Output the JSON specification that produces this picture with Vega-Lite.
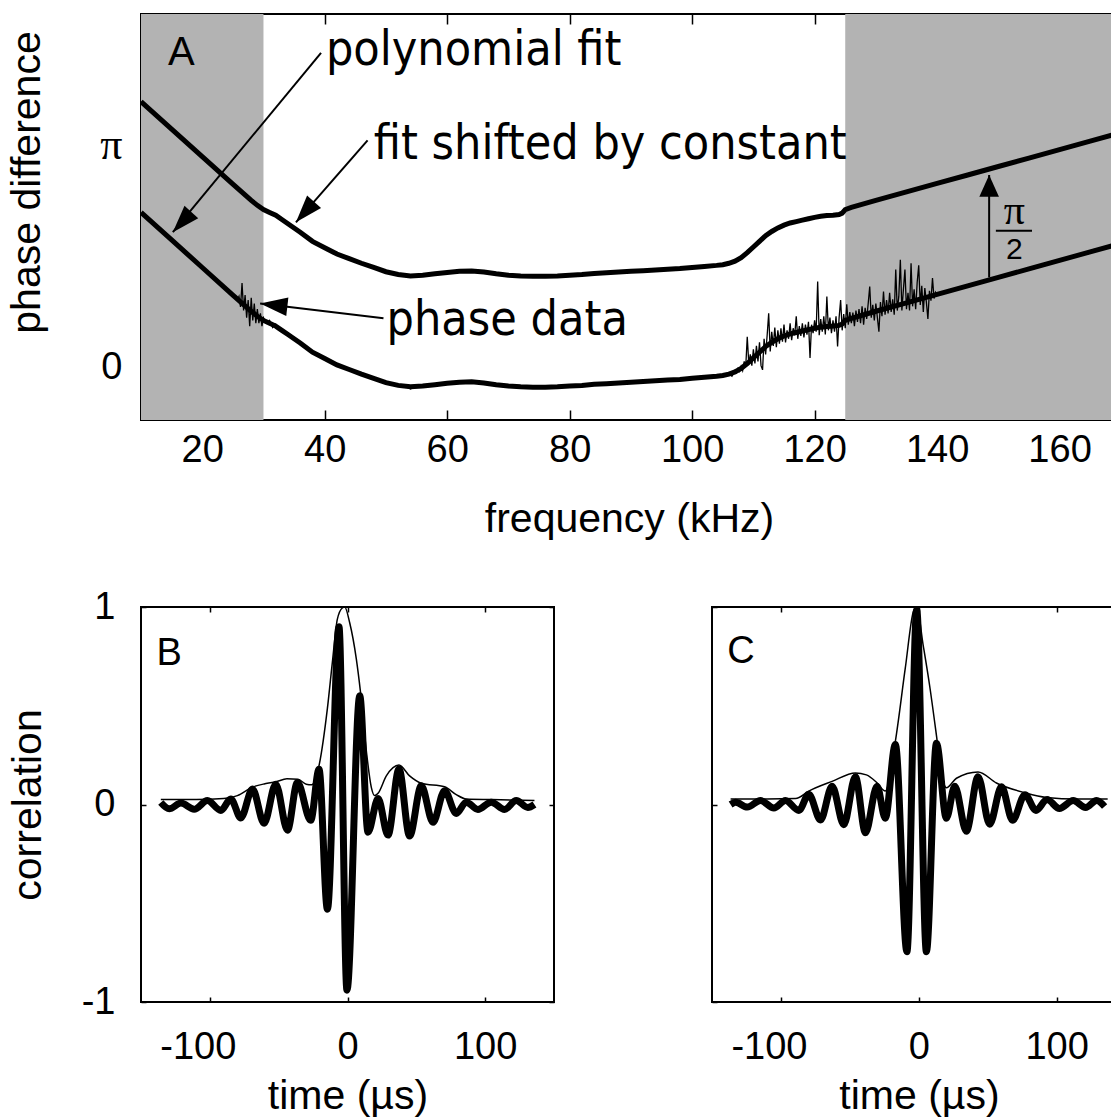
{
  "$schema": "https://vega.github.io/schema/vega-lite/v6.json",
  "background": "white",
  "padding": {"left": 4, "top": 12, "right": 0, "bottom": 0},
  "spacing": 47,
  "config": {
    "view": {"stroke": "#000", "strokeWidth": 2},
    "axis": {"grid": false, "domain": false, "tickColor": "#000", "tickWidth": 1.5, "labelColor": "#000", "titleColor": "#000", "labelFont": "Liberation Sans", "titleFont": "Liberation Sans", "labelFontSize": 38, "titleFontSize": 41, "titleFontWeight": "normal", "labelFlush": false, "labelOverlap": false},
    "point": {"filled": true}
  },
  "datasets": {
    "shadeA": [{"a": 10, "b": 30}, {"a": 125, "b": 170}],
    "fitA": [
      {"f": 10, "lo": 2.19, "hi": 3.76}, {"f": 15, "lo": 1.8, "hi": 3.37}, {"f": 20, "lo": 1.41, "hi": 2.98}, {"f": 25, "lo": 1.02, "hi": 2.59},
      {"f": 28, "lo": 0.79, "hi": 2.36}, {"f": 29, "lo": 0.72, "hi": 2.29}, {"f": 30, "lo": 0.66, "hi": 2.23}, {"f": 31, "lo": 0.62, "hi": 2.19},
      {"f": 32, "lo": 0.58, "hi": 2.15}, {"f": 33, "lo": 0.52, "hi": 2.09}, {"f": 34, "lo": 0.46, "hi": 2.03}, {"f": 35, "lo": 0.4, "hi": 1.97},
      {"f": 36, "lo": 0.34, "hi": 1.91}, {"f": 38, "lo": 0.21, "hi": 1.78}, {"f": 40, "lo": 0.12, "hi": 1.69}, {"f": 42, "lo": 0.03, "hi": 1.6},
      {"f": 44, "lo": -0.035, "hi": 1.535}, {"f": 46, "lo": -0.1, "hi": 1.47}, {"f": 48, "lo": -0.16, "hi": 1.41}, {"f": 50, "lo": -0.22, "hi": 1.35},
      {"f": 52, "lo": -0.26, "hi": 1.31}, {"f": 54, "lo": -0.28, "hi": 1.29}, {"f": 56, "lo": -0.27, "hi": 1.3}, {"f": 58, "lo": -0.25, "hi": 1.32},
      {"f": 60, "lo": -0.23, "hi": 1.34}, {"f": 62, "lo": -0.215, "hi": 1.355}, {"f": 64, "lo": -0.21, "hi": 1.36}, {"f": 66, "lo": -0.225, "hi": 1.345},
      {"f": 68, "lo": -0.25, "hi": 1.32}, {"f": 70, "lo": -0.27, "hi": 1.3}, {"f": 72, "lo": -0.28, "hi": 1.29}, {"f": 74, "lo": -0.285, "hi": 1.285},
      {"f": 76, "lo": -0.285, "hi": 1.285}, {"f": 78, "lo": -0.28, "hi": 1.29}, {"f": 80, "lo": -0.27, "hi": 1.3}, {"f": 82, "lo": -0.26, "hi": 1.31},
      {"f": 84, "lo": -0.245, "hi": 1.325}, {"f": 86, "lo": -0.235, "hi": 1.335}, {"f": 88, "lo": -0.225, "hi": 1.345}, {"f": 90, "lo": -0.215, "hi": 1.355},
      {"f": 92, "lo": -0.205, "hi": 1.365}, {"f": 94, "lo": -0.195, "hi": 1.375}, {"f": 96, "lo": -0.185, "hi": 1.385}, {"f": 98, "lo": -0.175, "hi": 1.395},
      {"f": 100, "lo": -0.16, "hi": 1.41}, {"f": 102, "lo": -0.145, "hi": 1.425}, {"f": 104, "lo": -0.13, "hi": 1.44}, {"f": 105, "lo": -0.12, "hi": 1.45},
      {"f": 106, "lo": -0.1, "hi": 1.47}, {"f": 107, "lo": -0.07, "hi": 1.5}, {"f": 108, "lo": -0.02, "hi": 1.55}, {"f": 109, "lo": 0.05, "hi": 1.62},
      {"f": 110, "lo": 0.13, "hi": 1.7}, {"f": 111, "lo": 0.21, "hi": 1.78}, {"f": 112, "lo": 0.29, "hi": 1.86}, {"f": 113, "lo": 0.35, "hi": 1.92},
      {"f": 114, "lo": 0.4, "hi": 1.97}, {"f": 115, "lo": 0.44, "hi": 2.01}, {"f": 116, "lo": 0.47, "hi": 2.04}, {"f": 117, "lo": 0.49, "hi": 2.06},
      {"f": 118, "lo": 0.51, "hi": 2.08}, {"f": 119, "lo": 0.53, "hi": 2.1}, {"f": 120, "lo": 0.55, "hi": 2.12}, {"f": 121, "lo": 0.565, "hi": 2.135},
      {"f": 122, "lo": 0.575, "hi": 2.145}, {"f": 123, "lo": 0.58, "hi": 2.15}, {"f": 124, "lo": 0.59, "hi": 2.16}, {"f": 124.5, "lo": 0.61, "hi": 2.18},
      {"f": 125, "lo": 0.66, "hi": 2.23}, {"f": 126, "lo": 0.69, "hi": 2.26}, {"f": 130, "lo": 0.79, "hi": 2.36}, {"f": 135, "lo": 0.91, "hi": 2.48},
      {"f": 140, "lo": 1.03, "hi": 2.6}, {"f": 145, "lo": 1.15, "hi": 2.72}, {"f": 150, "lo": 1.27, "hi": 2.84}, {"f": 155, "lo": 1.39, "hi": 2.96},
      {"f": 160, "lo": 1.51, "hi": 3.08}, {"f": 165, "lo": 1.63, "hi": 3.2}, {"f": 170, "lo": 1.75, "hi": 3.32}
    ],
    "phaseA": [
      {"f": 25.75, "p": 0.95}, {"f": 26, "p": 1.0}, {"f": 26.25, "p": 0.85}, {"f": 26.5, "p": 1.19}, {"f": 26.75, "p": 0.8}, {"f": 27, "p": 1.02},
      {"f": 27.25, "p": 0.7}, {"f": 27.5, "p": 0.95}, {"f": 27.75, "p": 0.58}, {"f": 28, "p": 0.98}, {"f": 28.25, "p": 0.66}, {"f": 28.5, "p": 0.9},
      {"f": 28.75, "p": 0.62}, {"f": 29, "p": 0.82}, {"f": 29.25, "p": 0.62}, {"f": 29.5, "p": 0.76}, {"f": 29.75, "p": 0.58}, {"f": 30, "p": 0.7},
      {"f": 30.5, "p": 0.62}, {"f": 31, "p": 0.66}, {"f": 31.5, "p": 0.56}, {"f": 32, "p": 0.61}, {"f": 32.5, "p": 0.54}, {"f": 33, "p": 0.54},
      {"f": 33.5, "p": 0.48}, {"f": 34, "p": 0.45}, {"f": 34.5, "p": 0.45}, {"f": 35, "p": 0.42}, {"f": 36, "p": 0.33}, {"f": 37, "p": 0.3},
      {"f": 38, "p": 0.2}, {"f": 39, "p": 0.19}, {"f": 40, "p": 0.11}, {"f": 41, "p": 0.09}, {"f": 42, "p": 0.03}, {"f": 43, "p": 0.01},
      {"f": 44, "p": -0.04}, {"f": 45, "p": -0.06}, {"f": 46, "p": -0.11}, {"f": 47, "p": -0.12}, {"f": 48, "p": -0.17}, {"f": 49, "p": -0.18},
      {"f": 50, "p": -0.23}, {"f": 51, "p": -0.23}, {"f": 52, "p": -0.27}, {"f": 53, "p": -0.25}, {"f": 54, "p": -0.31}, {"f": 55, "p": -0.27},
      {"f": 56, "p": -0.28}, {"f": 57, "p": -0.25}, {"f": 58, "p": -0.26}, {"f": 60, "p": -0.22}, {"f": 62, "p": -0.22}, {"f": 64, "p": -0.2},
      {"f": 66, "p": -0.23}, {"f": 68, "p": -0.24}, {"f": 70, "p": -0.28}, {"f": 72, "p": -0.27}, {"f": 74, "p": -0.3}, {"f": 76, "p": -0.28},
      {"f": 78, "p": -0.29}, {"f": 80, "p": -0.26}, {"f": 82, "p": -0.27}, {"f": 84, "p": -0.24}, {"f": 86, "p": -0.245}, {"f": 88, "p": -0.22},
      {"f": 90, "p": -0.225}, {"f": 92, "p": -0.2}, {"f": 94, "p": -0.205}, {"f": 96, "p": -0.18}, {"f": 98, "p": -0.19}, {"f": 100, "p": -0.15},
      {"f": 101, "p": -0.17}, {"f": 102, "p": -0.13}, {"f": 103, "p": -0.16}, {"f": 104, "p": -0.12}, {"f": 105, "p": -0.14}, {"f": 106, "p": -0.09},
      {"f": 106.5, "p": -0.13}, {"f": 107, "p": -0.05}, {"f": 107.25, "p": -0.08}, {"f": 107.5, "p": -0.02}, {"f": 107.75, "p": -0.06}, {"f": 108, "p": 0.01},
      {"f": 108.25, "p": -0.05}, {"f": 108.5, "p": 0.08}, {"f": 108.75, "p": 0.0}, {"f": 109, "p": 0.43}, {"f": 109.25, "p": 0.05}, {"f": 109.5, "p": 0.18},
      {"f": 109.75, "p": 0.02}, {"f": 110, "p": 0.25}, {"f": 110.25, "p": 0.05}, {"f": 110.5, "p": 0.3}, {"f": 110.75, "p": 0.08}, {"f": 111, "p": 0.35},
      {"f": 111.25, "p": 0.02}, {"f": 111.5, "p": -0.04}, {"f": 111.75, "p": 0.4}, {"f": 112, "p": 0.18}, {"f": 112.25, "p": 0.45}, {"f": 112.5, "p": 0.76},
      {"f": 112.75, "p": 0.22}, {"f": 113, "p": 0.5}, {"f": 113.25, "p": 0.3}, {"f": 113.5, "p": 0.56}, {"f": 113.75, "p": 0.28}, {"f": 114, "p": 0.52},
      {"f": 114.25, "p": 0.33}, {"f": 114.5, "p": 0.55}, {"f": 114.75, "p": 0.36}, {"f": 115, "p": 0.6}, {"f": 115.25, "p": 0.35}, {"f": 115.5, "p": 0.52},
      {"f": 115.75, "p": 0.4}, {"f": 116, "p": 0.62}, {"f": 116.25, "p": 0.38}, {"f": 116.5, "p": 0.55}, {"f": 116.75, "p": 0.45}, {"f": 117, "p": 0.72},
      {"f": 117.25, "p": 0.4}, {"f": 117.5, "p": 0.58}, {"f": 117.75, "p": 0.44}, {"f": 118, "p": 0.62}, {"f": 118.25, "p": 0.42}, {"f": 118.5, "p": 0.6},
      {"f": 118.75, "p": 0.46}, {"f": 119, "p": 0.64}, {"f": 119.25, "p": 0.13}, {"f": 119.5, "p": 0.6}, {"f": 119.75, "p": 0.48}, {"f": 120, "p": 0.66},
      {"f": 120.25, "p": 0.5}, {"f": 120.5, "p": 1.21}, {"f": 120.75, "p": 0.45}, {"f": 121, "p": 0.68}, {"f": 121.25, "p": 0.5}, {"f": 121.5, "p": 0.72},
      {"f": 121.75, "p": 0.46}, {"f": 122, "p": 1.0}, {"f": 122.25, "p": 0.52}, {"f": 122.5, "p": 0.7}, {"f": 122.75, "p": 0.48}, {"f": 123, "p": 0.66},
      {"f": 123.25, "p": 0.5}, {"f": 123.5, "p": 0.72}, {"f": 123.75, "p": 0.29}, {"f": 124, "p": 0.7}, {"f": 124.25, "p": 0.95}, {"f": 124.5, "p": 0.52},
      {"f": 124.75, "p": 0.75}, {"f": 125, "p": 0.55}, {"f": 125.25, "p": 0.89}, {"f": 125.5, "p": 0.6}, {"f": 125.75, "p": 0.78}, {"f": 126, "p": 0.62},
      {"f": 126.25, "p": 0.77}, {"f": 126.5, "p": 0.58}, {"f": 126.75, "p": 0.8}, {"f": 127, "p": 0.64}, {"f": 127.25, "p": 0.82}, {"f": 127.5, "p": 0.62},
      {"f": 127.75, "p": 0.86}, {"f": 128, "p": 0.6}, {"f": 128.25, "p": 0.84}, {"f": 128.5, "p": 0.68}, {"f": 128.75, "p": 0.9}, {"f": 129, "p": 1.14},
      {"f": 129.25, "p": 0.7}, {"f": 129.5, "p": 0.88}, {"f": 129.75, "p": 0.66}, {"f": 130, "p": 0.9}, {"f": 130.25, "p": 0.7}, {"f": 130.5, "p": 0.5},
      {"f": 130.75, "p": 0.92}, {"f": 131, "p": 0.72}, {"f": 131.25, "p": 1.07}, {"f": 131.5, "p": 0.74}, {"f": 131.75, "p": 0.95}, {"f": 132, "p": 0.76},
      {"f": 132.25, "p": 1.05}, {"f": 132.5, "p": 0.78}, {"f": 132.75, "p": 0.96}, {"f": 133, "p": 0.74}, {"f": 133.25, "p": 1.38}, {"f": 133.5, "p": 0.8},
      {"f": 133.75, "p": 1.0}, {"f": 134, "p": 1.52}, {"f": 134.25, "p": 0.8}, {"f": 134.5, "p": 1.1}, {"f": 134.75, "p": 1.38}, {"f": 135, "p": 0.82},
      {"f": 135.25, "p": 1.05}, {"f": 135.5, "p": 0.8}, {"f": 135.75, "p": 1.47}, {"f": 136, "p": 0.86}, {"f": 136.25, "p": 1.1}, {"f": 136.5, "p": 0.82},
      {"f": 136.75, "p": 1.2}, {"f": 137, "p": 1.44}, {"f": 137.25, "p": 0.88}, {"f": 137.5, "p": 1.15}, {"f": 137.75, "p": 0.78}, {"f": 138, "p": 1.12},
      {"f": 138.25, "p": 0.92}, {"f": 138.5, "p": 0.68}, {"f": 138.75, "p": 1.08}, {"f": 139, "p": 0.94}, {"f": 139.25, "p": 1.26}, {"f": 139.5, "p": 0.97},
      {"f": 139.75, "p": 1.06}, {"f": 140, "p": 1.02}
    ],
    "arrowsA": [
      {"id": 1, "f0": 39.4, "v0": 4.45, "f1": 15.2, "v1": 1.91},
      {"id": 2, "f0": 47.0, "v0": 3.21, "f1": 35.3, "v1": 2.05},
      {"id": 3, "f0": 49.6, "v0": 0.69, "f1": 29.45, "v1": 0.9},
      {"id": 4, "f0": 148.5, "v0": 1.27, "f1": 148.5, "v1": 2.72}
    ],
    "notesA": [
      {"f": 40.2, "v": 4.28, "txt": "polynomial fit"},
      {"f": 48.0, "v": 2.95, "txt": "fit shifted by constant"},
      {"f": 50.1, "v": 0.45, "txt": "phase data"}
    ],
    "piA": [{"f": 152.6, "v": 2.02, "txt": "π"}],
    "twoA": [{"f": 152.6, "v": 1.66, "txt": "2"}],
    "barA": [{"f0": 149.6, "f1": 155.5, "v": 1.93}],
    "letterA": [{"f": 16.6, "v": 4.45, "txt": "A"}],
    "thickB": [
      {"t": -135.6, "r": 0.01}, {"t": -129.5, "r": -0.022}, {"t": -121, "r": 0.007}, {"t": -111.4, "r": -0.024}, {"t": -101.7, "r": 0.02},
      {"t": -92, "r": -0.03}, {"t": -84.8, "r": 0.028}, {"t": -77.5, "r": -0.068}, {"t": -69, "r": 0.078}, {"t": -60.6, "r": -0.095},
      {"t": -52.1, "r": 0.103}, {"t": -43.6, "r": -0.13}, {"t": -36.4, "r": 0.112}, {"t": -26.7, "r": -0.08}, {"t": -20.7, "r": 0.178},
      {"t": -14.6, "r": -0.53}, {"t": -6.2, "r": 0.9}, {"t": -0.4, "r": -0.94}, {"t": 8.9, "r": 0.55}, {"t": 14.9, "r": -0.14},
      {"t": 22.2, "r": 0.03}, {"t": 29.4, "r": -0.155}, {"t": 37.4, "r": 0.18}, {"t": 45.1, "r": -0.16}, {"t": 53.6, "r": 0.095},
      {"t": 62.1, "r": -0.09}, {"t": 70.5, "r": 0.07}, {"t": 79, "r": -0.045}, {"t": 86.3, "r": 0.012}, {"t": 94.7, "r": -0.025},
      {"t": 104.4, "r": 0.012}, {"t": 114.1, "r": -0.025}, {"t": 122.6, "r": 0.02}, {"t": 131, "r": -0.015}, {"t": 135.8, "r": 0.0}
    ],
    "envB": [
      {"t": -135.6, "e": 0.025}, {"t": -110, "e": 0.025}, {"t": -90, "e": 0.03}, {"t": -80, "e": 0.045}, {"t": -69, "e": 0.088},
      {"t": -60, "e": 0.105}, {"t": -52, "e": 0.115}, {"t": -44, "e": 0.13}, {"t": -36, "e": 0.128}, {"t": -30, "e": 0.103},
      {"t": -26, "e": 0.1}, {"t": -21, "e": 0.187}, {"t": -14.6, "e": 0.487}, {"t": -11, "e": 0.72}, {"t": -7.4, "e": 0.937},
      {"t": -3.8, "e": 0.995}, {"t": -2, "e": 1.0}, {"t": 1.6, "e": 0.92}, {"t": 6.4, "e": 0.737}, {"t": 9.3, "e": 0.578},
      {"t": 13.7, "e": 0.27}, {"t": 17.3, "e": 0.087}, {"t": 19.7, "e": 0.045}, {"t": 22.2, "e": 0.057}, {"t": 28.2, "e": 0.145},
      {"t": 37.4, "e": 0.2}, {"t": 45.1, "e": 0.145}, {"t": 53.6, "e": 0.108}, {"t": 70.5, "e": 0.09}, {"t": 79, "e": 0.05},
      {"t": 86.3, "e": 0.028}, {"t": 104.4, "e": 0.025}, {"t": 135.8, "e": 0.02}
    ],
    "thickC": [
      {"t": -136.5, "r": 0.0}, {"t": -132.9, "r": 0.011}, {"t": -124.4, "r": -0.013}, {"t": -114.8, "r": 0.02}, {"t": -105.1, "r": -0.018},
      {"t": -96.7, "r": 0.02}, {"t": -87, "r": -0.03}, {"t": -79.8, "r": 0.052}, {"t": -71.3, "r": -0.078}, {"t": -62.9, "r": 0.093},
      {"t": -54.4, "r": -0.102}, {"t": -46, "r": 0.141}, {"t": -38.7, "r": -0.143}, {"t": -30.3, "r": 0.093}, {"t": -24.3, "r": -0.07},
      {"t": -17, "r": 0.304}, {"t": -8.6, "r": -0.745}, {"t": -1.5, "r": 0.985}, {"t": 5.5, "r": -0.745}, {"t": 12.8, "r": 0.31},
      {"t": 20, "r": -0.07}, {"t": 26.1, "r": 0.093}, {"t": 34.5, "r": -0.135}, {"t": 43, "r": 0.141}, {"t": 51.4, "r": -0.1},
      {"t": 60, "r": 0.09}, {"t": 68, "r": -0.08}, {"t": 77, "r": 0.05}, {"t": 85, "r": -0.03}, {"t": 93, "r": 0.025},
      {"t": 102, "r": -0.02}, {"t": 112, "r": 0.02}, {"t": 121, "r": -0.015}, {"t": 129, "r": 0.02}, {"t": 134.8, "r": -0.01}
    ],
    "envC": [
      {"t": -136.5, "e": 0.028}, {"t": -110, "e": 0.028}, {"t": -89.4, "e": 0.03}, {"t": -79.8, "e": 0.068}, {"t": -62.9, "e": 0.117},
      {"t": -46, "e": 0.16}, {"t": -38, "e": 0.15}, {"t": -30.3, "e": 0.11}, {"t": -24.3, "e": 0.068}, {"t": -17, "e": 0.32},
      {"t": -9.8, "e": 0.69}, {"t": -3.8, "e": 0.98}, {"t": -1.5, "e": 1.0}, {"t": 3.1, "e": 0.81}, {"t": 7.9, "e": 0.6},
      {"t": 12.8, "e": 0.35}, {"t": 16.4, "e": 0.157}, {"t": 20, "e": 0.085}, {"t": 27.3, "e": 0.133}, {"t": 43, "e": 0.165},
      {"t": 56.3, "e": 0.109}, {"t": 76.8, "e": 0.06}, {"t": 92.5, "e": 0.036}, {"t": 115, "e": 0.028}, {"t": 137, "e": 0.028}
    ],
    "letterB": [{"t": -129.5, "v": 0.76, "txt": "B"}],
    "letterC": [{"t": -129, "v": 0.77, "txt": "C"}]
  },
  "vconcat": [
    {
      "width": 970,
      "height": 406,
      "resolve": {"axis": {"x": "independent", "y": "independent"}},
      "layer": [
        {
          "data": {"name": "shadeA"},
          "mark": {"type": "rect", "color": "#b3b3b3", "clip": true},
          "encoding": {
            "x": {"field": "a", "type": "quantitative", "scale": {"domain": [10, 168.4], "nice": false, "zero": false}, "axis": null},
            "x2": {"field": "b"}
          }
        },
        {
          "data": {"name": "fitA"},
          "mark": {"type": "line", "color": "#000", "strokeWidth": 5, "clip": true},
          "encoding": {
            "x": {"field": "f", "type": "quantitative", "scale": {"domain": [10, 168.4], "nice": false, "zero": false},
              "axis": {"orient": "bottom", "values": [20, 40, 60, 80, 100, 120, 140, 160], "tickSize": -10, "labelPadding": 21, "title": "frequency (kHz)", "titleY": 79, "titleBaseline": "top", "titleX": 488}},
            "y": {"field": "lo", "type": "quantitative", "scale": {"domain": [-0.75, 5], "nice": false, "zero": false},
              "axis": {"orient": "left", "values": [0, 3.14159265], "tickSize": -10, "labelPadding": 29,
                "labelExpr": "datum.value > 1 ? 'π' : '0'",
                "labelFont": {"condition": {"test": "datum.value > 1", "value": "Liberation Serif"}, "value": "Liberation Sans"},
                "labelFontSize": {"condition": {"test": "datum.value > 1", "value": 44}, "value": 38},
                "title": "phase difference", "titleX": -102, "titleY": 168, "titleAngle": -90, "titleBaseline": "alphabetic", "titleAlign": "center"}}
          }
        },
        {
          "data": {"name": "fitA"},
          "mark": {"type": "line", "color": "#000", "strokeWidth": 5, "clip": true},
          "encoding": {
            "x": {"field": "f", "type": "quantitative", "scale": {"domain": [10, 168.4], "nice": false, "zero": false},
              "axis": {"orient": "top", "values": [20, 40, 60, 80, 100, 120, 140, 160], "tickSize": -10, "labels": false, "title": null}},
            "y": {"field": "hi", "type": "quantitative", "scale": {"domain": [-0.75, 5], "nice": false, "zero": false}, "axis": null}
          }
        },
        {
          "data": {"name": "phaseA"},
          "mark": {"type": "line", "color": "#000", "strokeWidth": 1.3, "clip": true},
          "encoding": {
            "x": {"field": "f", "type": "quantitative", "scale": {"domain": [10, 168.4], "nice": false, "zero": false}, "axis": null},
            "y": {"field": "p", "type": "quantitative", "scale": {"domain": [-0.75, 5], "nice": false, "zero": false}, "axis": null}
          }
        },
        {
          "data": {"name": "arrowsA"},
          "mark": {"type": "rule", "color": "#000", "strokeWidth": 2},
          "encoding": {
            "x": {"field": "f0", "type": "quantitative", "scale": {"domain": [10, 168.4], "nice": false, "zero": false}, "axis": null},
            "y": {"field": "v0", "type": "quantitative", "scale": {"domain": [-0.75, 5], "nice": false, "zero": false}, "axis": null},
            "x2": {"field": "f1"},
            "y2": {"field": "v1"}
          }
        },
        {
          "data": {"name": "arrowsA"},
          "transform": [{"filter": "datum.id == 1"}],
          "mark": {"type": "point", "shape": "M0,0L-0.34,1L0.34,1Z", "size": 3000, "angle": 222.5, "color": "#000", "filled": true, "opacity": 1},
          "encoding": {
            "x": {"field": "f1", "type": "quantitative", "scale": {"domain": [10, 168.4], "nice": false, "zero": false}, "axis": null},
            "y": {"field": "v1", "type": "quantitative", "scale": {"domain": [-0.75, 5], "nice": false, "zero": false}, "axis": null}
          }
        },
        {
          "data": {"name": "arrowsA"},
          "transform": [{"filter": "datum.id == 2"}],
          "mark": {"type": "point", "shape": "M0,0L-0.34,1L0.34,1Z", "size": 3000, "angle": 221.5, "color": "#000", "filled": true, "opacity": 1},
          "encoding": {
            "x": {"field": "f1", "type": "quantitative", "scale": {"domain": [10, 168.4], "nice": false, "zero": false}, "axis": null},
            "y": {"field": "v1", "type": "quantitative", "scale": {"domain": [-0.75, 5], "nice": false, "zero": false}, "axis": null}
          }
        },
        {
          "data": {"name": "arrowsA"},
          "transform": [{"filter": "datum.id == 3"}],
          "mark": {"type": "point", "shape": "M0,0L-0.34,1L0.34,1Z", "size": 3000, "angle": 276.6, "color": "#000", "filled": true, "opacity": 1},
          "encoding": {
            "x": {"field": "f1", "type": "quantitative", "scale": {"domain": [10, 168.4], "nice": false, "zero": false}, "axis": null},
            "y": {"field": "v1", "type": "quantitative", "scale": {"domain": [-0.75, 5], "nice": false, "zero": false}, "axis": null}
          }
        },
        {
          "data": {"name": "arrowsA"},
          "transform": [{"filter": "datum.id == 4"}],
          "mark": {"type": "point", "shape": "M0,0L-0.45,1L0.45,1Z", "size": 1900, "angle": 0, "color": "#000", "filled": true, "opacity": 1},
          "encoding": {
            "x": {"field": "f1", "type": "quantitative", "scale": {"domain": [10, 168.4], "nice": false, "zero": false}, "axis": null},
            "y": {"field": "v1", "type": "quantitative", "scale": {"domain": [-0.75, 5], "nice": false, "zero": false}, "axis": null}
          }
        },
        {
          "data": {"name": "notesA"},
          "mark": {"type": "text", "font": "DejaVu Sans Condensed, DejaVu Sans", "fontSize": 48, "align": "left", "baseline": "alphabetic", "color": "#000"},
          "encoding": {
            "x": {"field": "f", "type": "quantitative", "scale": {"domain": [10, 168.4], "nice": false, "zero": false}, "axis": null},
            "y": {"field": "v", "type": "quantitative", "scale": {"domain": [-0.75, 5], "nice": false, "zero": false}, "axis": null},
            "text": {"field": "txt"}
          }
        },
        {
          "data": {"name": "letterA"},
          "mark": {"type": "text", "font": "Liberation Sans", "fontSize": 40, "align": "center", "baseline": "middle", "color": "#000"},
          "encoding": {
            "x": {"field": "f", "type": "quantitative", "scale": {"domain": [10, 168.4], "nice": false, "zero": false}, "axis": null},
            "y": {"field": "v", "type": "quantitative", "scale": {"domain": [-0.75, 5], "nice": false, "zero": false}, "axis": null},
            "text": {"field": "txt"}
          }
        },
        {
          "data": {"name": "piA"},
          "mark": {"type": "text", "font": "Liberation Serif", "fontSize": 42, "align": "center", "baseline": "alphabetic", "color": "#000"},
          "encoding": {
            "x": {"field": "f", "type": "quantitative", "scale": {"domain": [10, 168.4], "nice": false, "zero": false}, "axis": null},
            "y": {"field": "v", "type": "quantitative", "scale": {"domain": [-0.75, 5], "nice": false, "zero": false}, "axis": null},
            "text": {"field": "txt"}
          }
        },
        {
          "data": {"name": "twoA"},
          "mark": {"type": "text", "font": "Liberation Sans", "fontSize": 30, "align": "center", "baseline": "middle", "color": "#000"},
          "encoding": {
            "x": {"field": "f", "type": "quantitative", "scale": {"domain": [10, 168.4], "nice": false, "zero": false}, "axis": null},
            "y": {"field": "v", "type": "quantitative", "scale": {"domain": [-0.75, 5], "nice": false, "zero": false}, "axis": null},
            "text": {"field": "txt"}
          }
        },
        {
          "data": {"name": "barA"},
          "mark": {"type": "rule", "color": "#000", "strokeWidth": 2},
          "encoding": {
            "x": {"field": "f0", "type": "quantitative", "scale": {"domain": [10, 168.4], "nice": false, "zero": false}, "axis": null},
            "x2": {"field": "f1"},
            "y": {"field": "v", "type": "quantitative", "scale": {"domain": [-0.75, 5], "nice": false, "zero": false}, "axis": null}
          }
        }
      ]
    },
    {
      "spacing": 154,
      "hconcat": [
        {
          "width": 413,
          "height": 395,
          "resolve": {"axis": {"x": "independent", "y": "independent"}},
          "layer": [
            {
              "data": {"name": "thickB"},
              "mark": {"type": "line", "color": "#000", "strokeWidth": 7, "interpolate": "monotone"},
              "encoding": {
                "x": {"field": "t", "type": "quantitative", "scale": {"domain": [-150, 150], "nice": false, "zero": false},
                  "axis": {"orient": "bottom", "values": [-100, 0, 100], "tickSize": -5, "labelPadding": 31, "labelExpr": "'' + datum.value",
                    "labelOffset": {"condition": {"test": "datum.value < 0", "value": -12}, "value": 0},
                    "title": "time (µs)", "titleY": 74, "titleBaseline": "top"}},
                "y": {"field": "r", "type": "quantitative", "scale": {"domain": [-1, 1], "nice": false, "zero": false},
                  "axis": {"orient": "left", "values": [-1, 0, 1], "tickSize": -5, "labelPadding": 31, "labelExpr": "'' + datum.value", "title": "correlation", "titleX": -101, "titleAngle": -90, "titleBaseline": "alphabetic", "titleAlign": "center"}}
              }
            },
            {
              "data": {"name": "envB"},
              "mark": {"type": "line", "color": "#000", "strokeWidth": 1.5, "interpolate": "monotone"},
              "encoding": {
                "x": {"field": "t", "type": "quantitative", "scale": {"domain": [-150, 150], "nice": false, "zero": false},
                  "axis": {"orient": "top", "values": [-100, 0, 100], "tickSize": -5, "labels": false, "title": null}},
                "y": {"field": "e", "type": "quantitative", "scale": {"domain": [-1, 1], "nice": false, "zero": false},
                  "axis": {"orient": "right", "values": [-1, 0, 1], "tickSize": -5, "labels": false, "title": null}}
              }
            },
            {
              "data": {"name": "letterB"},
              "mark": {"type": "text", "font": "Liberation Sans", "fontSize": 38, "align": "center", "baseline": "middle", "color": "#000"},
              "encoding": {
                "x": {"field": "t", "type": "quantitative", "scale": {"domain": [-150, 150], "nice": false, "zero": false}, "axis": null},
                "y": {"field": "v", "type": "quantitative", "scale": {"domain": [-1, 1], "nice": false, "zero": false}, "axis": null},
                "text": {"field": "txt"}
              }
            }
          ]
        },
        {
          "width": 402,
          "height": 395,
          "resolve": {"axis": {"x": "independent", "y": "independent"}},
          "layer": [
            {
              "data": {"name": "thickC"},
              "mark": {"type": "line", "color": "#000", "strokeWidth": 7, "interpolate": "monotone"},
              "encoding": {
                "x": {"field": "t", "type": "quantitative", "scale": {"domain": [-150, 141.6], "nice": false, "zero": false},
                  "axis": {"orient": "bottom", "values": [-100, 0, 100], "tickSize": -5, "labelPadding": 31, "labelExpr": "'' + datum.value",
                    "labelOffset": {"condition": {"test": "datum.value < 0", "value": -12}, "value": 0},
                    "title": "time (µs)", "titleY": 74, "titleBaseline": "top", "titleX": 207}},
                "y": {"field": "r", "type": "quantitative", "scale": {"domain": [-1, 1], "nice": false, "zero": false},
                  "axis": {"orient": "left", "values": [-1, 0, 1], "tickSize": -5, "labels": false, "title": null}}
              }
            },
            {
              "data": {"name": "envC"},
              "mark": {"type": "line", "color": "#000", "strokeWidth": 1.5, "interpolate": "monotone"},
              "encoding": {
                "x": {"field": "t", "type": "quantitative", "scale": {"domain": [-150, 141.6], "nice": false, "zero": false},
                  "axis": {"orient": "top", "values": [-100, 0, 100], "tickSize": -5, "labels": false, "title": null}},
                "y": {"field": "e", "type": "quantitative", "scale": {"domain": [-1, 1], "nice": false, "zero": false}, "axis": null}
              }
            },
            {
              "data": {"name": "letterC"},
              "mark": {"type": "text", "font": "Liberation Sans", "fontSize": 38, "align": "center", "baseline": "middle", "color": "#000"},
              "encoding": {
                "x": {"field": "t", "type": "quantitative", "scale": {"domain": [-150, 141.6], "nice": false, "zero": false}, "axis": null},
                "y": {"field": "v", "type": "quantitative", "scale": {"domain": [-1, 1], "nice": false, "zero": false}, "axis": null},
                "text": {"field": "txt"}
              }
            }
          ]
        }
      ]
    }
  ]
}
